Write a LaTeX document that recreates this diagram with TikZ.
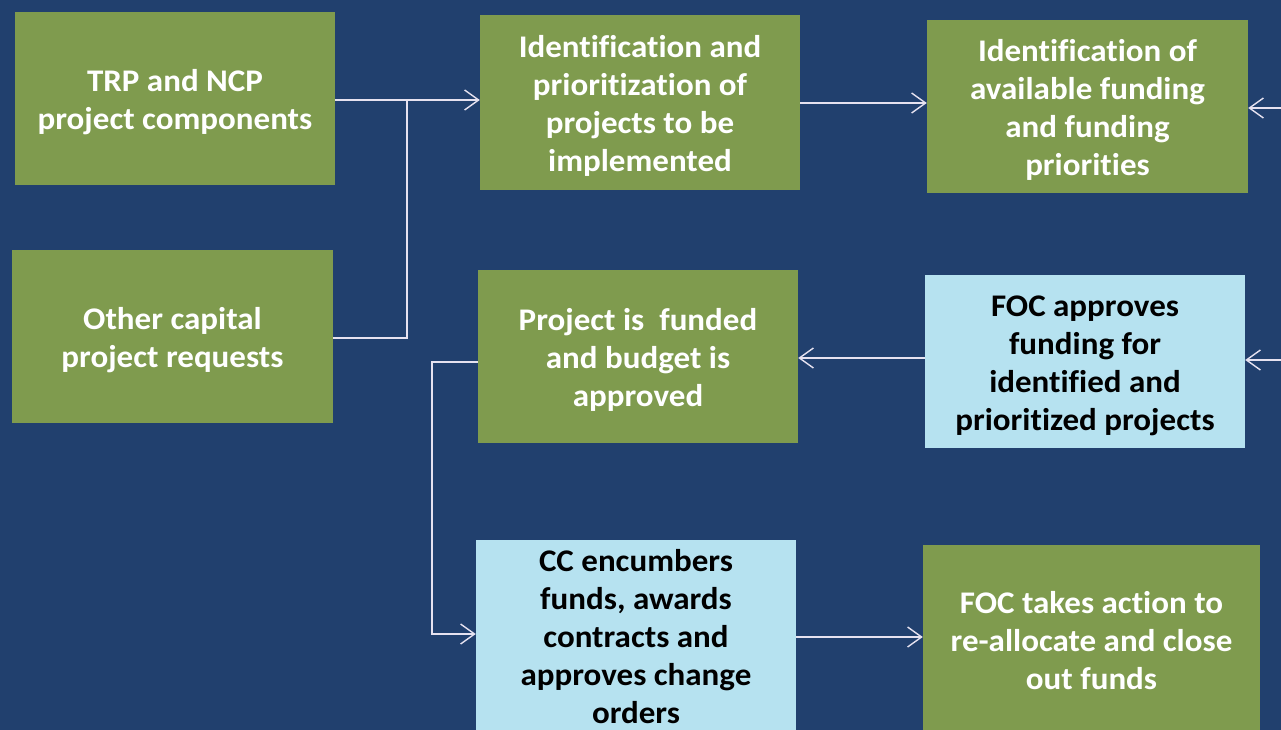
\documentclass[tikz,border=0pt]{standalone}
\usepackage{fontspec}
\setmainfont{Carlito}[Ligatures=CommonOff, FakeStretch=1.048]
\usetikzlibrary{arrows.meta}
\definecolor{navy}{HTML}{21406E}
\definecolor{boxgreen}{HTML}{7F9B4E}
\definecolor{boxblue}{HTML}{B6E2F0}
\definecolor{linec}{HTML}{E6E2F0}
\newcommand{\tS}{\rule{0pt}{35pt}}
\newcommand{\tSs}{\rule{0pt}{27pt}}
\newcommand{\bS}{\rule[-11pt]{0pt}{11pt}}
\tikzset{
  box/.style={rectangle, inner sep=0pt, minimum width=320pt, minimum height=173pt,
    align=center, font=\fontsize{31.5}{38}\selectfont\bfseries},
  gbox/.style={box, fill=boxgreen, text=white},
  bbox/.style={box, fill=boxblue, text=black},
  conn/.style={draw=linec, line width=1.6pt},
  arr/.style={conn, -{Straight Barb[length=14pt,width=20pt,line width=1.4pt]}}
}
\begin{document}
\begin{tikzpicture}[x=1pt,y=-1pt]
\useasboundingbox (0,0) rectangle (1281,730);
\clip (0,0) rectangle (1281,730);
\fill[navy] (0,0) rectangle (1281,730);

\node[gbox] (N1) at (175,98.5) {\tS TRP and NCP\\project components\bS};
\node[gbox, minimum width=321pt] (N2) at (172.5,336.5) {\tS Other capital\\project requests\bS};
\node[gbox, minimum height=175pt] (N3) at (640,102.5) {\tS Identification and\\prioritization of\\projects to be\\implemented\bS};
\node[gbox, minimum width=321pt] (N4) at (1087.5,106.5) {\tS Identification of\\available funding\\and funding\\priorities\bS};
\node[gbox] (N5) at (638,356.5) {\tS Project is~ funded\\and budget is\\approved\bS};
\node[bbox] (N6) at (1085,361.5) {\tS FOC approves\\funding for\\identified and\\prioritized projects\bS};
\node[bbox, minimum height=198pt] (N7) at (636,639) {\tSs CC encumbers\\funds, awards\\contracts and\\approves change\\orders\bS};
\node[gbox, minimum width=337pt, minimum height=188pt] (N8) at (1091.5,639) {\tS FOC takes action to\\re-allocate and close\\out funds\bS};

\coordinate (j1) at (407,100);
\coordinate (j2) at (407,338);
\draw[conn] (N1.east |- j1) -- (j1);
\draw[conn] (N2.east |- j2) -- (j2) -- (j1);
\draw[arr] (j1) -- (N3.west |- j1);

\coordinate (a1) at (860,103);
\draw[arr] (N3.east |- a1) -- (N4.west |- a1);

\coordinate (r1) at (1281,108);
\draw[arr] (r1) -- (N4.east |- r1);
\coordinate (r2) at (1281,360);
\draw[arr] (r2) -- (N6.east |- r2);

\coordinate (a2) at (860,358);
\draw[arr] (N6.west |- a2) -- (N5.east |- a2);

\coordinate (k1) at (432,362);
\coordinate (k2) at (432,634);
\draw[arr] (N5.west |- k1) -- (k1) -- (k2) -- (N7.west |- k2);

\coordinate (a3) at (860,637);
\draw[arr] (N7.east |- a3) -- (N8.west |- a3);
\end{tikzpicture}
\end{document}
